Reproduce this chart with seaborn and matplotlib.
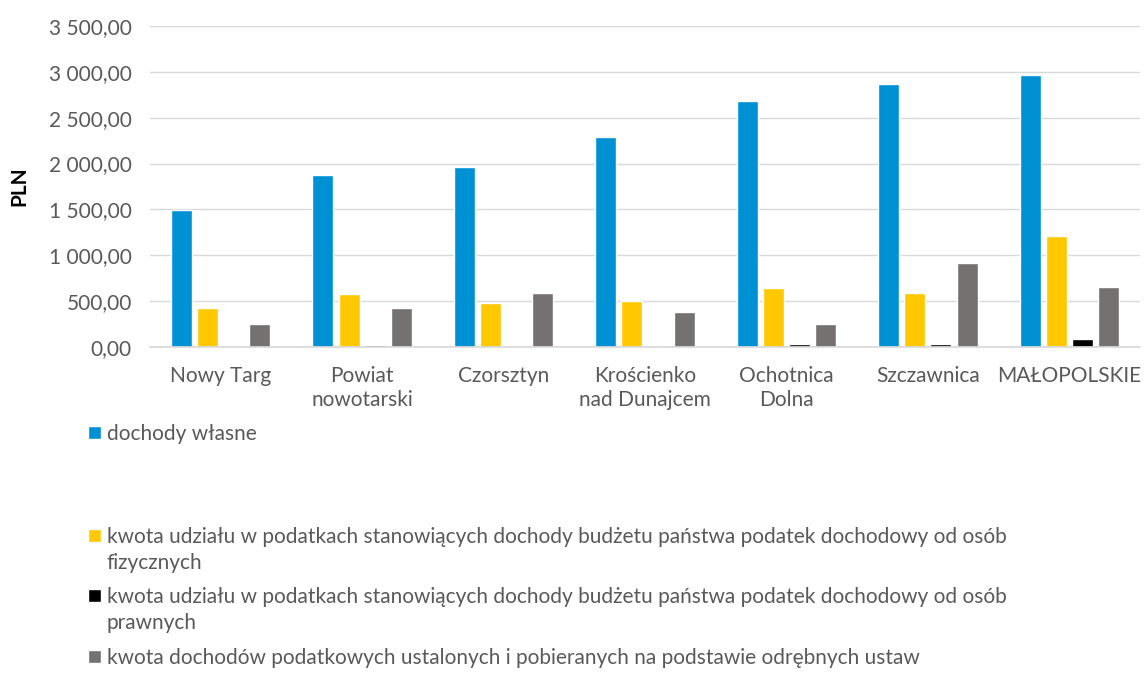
import numpy as np
import pandas as pd
import matplotlib
matplotlib.use("Agg")
import matplotlib.pyplot as plt
import seaborn as sns
from matplotlib.ticker import FuncFormatter, MultipleLocator
from matplotlib.patches import Patch

# data (PLN)
categories = ["Nowy Targ", "Powiat\nnowotarski", "Czorsztyn", "Krościenko\nnad Dunajcem",
              "Ochotnica\nDolna", "Szczawnica", "MAŁOPOLSKIE"]
series_names = [
    "dochody własne",
    "kwota udziału w podatkach stanowiących dochody budżetu państwa podatek dochodowy od osób\nfizycznych",
    "kwota udziału w podatkach stanowiących dochody budżetu państwa podatek dochodowy od osób\nprawnych",
    "kwota dochodów podatkowych ustalonych i pobieranych na podstawie odrębnych ustaw",
]
dochody_wlasne = [1494, 1875, 1962, 2290, 2682, 2867, 2966]
pit_udzial = [425, 578, 480, 501, 643, 589, 1210]
cit_udzial = [0, 20, 3, 2, 30, 30, 87]
odrebne_ustawy = [251, 425, 589, 382, 251, 916, 654]
colors = ["#0091D5", "#FFC800", "#000000", "#767171"]

df = pd.DataFrame({
    "kategoria": np.repeat(categories, 4),
    "seria": series_names * len(categories),
    "wartosc": np.column_stack([dochody_wlasne, pit_udzial, cit_udzial, odrebne_ustawy]).ravel(),
})

sns.set_theme(style="white")
plt.rcParams["font.family"] = ["Lato", "DejaVu Sans"]
text_col = "#595959"
fs = 15
W, H = 1145, 693

fig = plt.figure(figsize=(W / 100, H / 100), dpi=100)
ax = fig.add_axes([150 / W, 1 - 347 / H, (1140 - 150) / W, (347 - 26) / H])

sns.barplot(data=df, x="kategoria", y="wartosc", hue="seria", hue_order=series_names,
            palette=colors, width=0.74, gap=0.2, saturation=1, legend=False, ax=ax)

ax.set_ylim(0, 3500)
ax.yaxis.set_major_locator(MultipleLocator(500))
ax.yaxis.set_major_formatter(FuncFormatter(
    lambda v, p: f"{v:,.2f}".replace(",", " ").replace(".", ",")))
ax.grid(axis="y", color="#D9D9D9", lw=1)
ax.set_axisbelow(True)
for s in ["top", "right", "left"]:
    ax.spines[s].set_visible(False)
ax.spines["bottom"].set_color("#D9D9D9")
ax.tick_params(axis="y", length=0, labelsize=fs, colors=text_col, pad=13)
ax.tick_params(axis="x", length=0, labelsize=fs, colors=text_col, pad=14)
for lbl in ax.get_xticklabels():
    lbl.set_linespacing(1.2)
ax.set_xlabel("")
ax.set_ylabel("PLN", fontsize=fs, fontweight="bold", color="black")
ax.yaxis.set_label_coords(-0.122, 0.5)

# legend entries, one per row; wrapped continuation lines go under the text
legend_y = [433, 536, 596, 657]
legends = []
for name, col, y in zip(series_names, colors, legend_y):
    first = name.split("\n")[0]
    leg = fig.legend(handles=[Patch(facecolor=col)], labels=[first], loc="upper left",
                     bbox_to_anchor=(88 / W, 1 - (y - 9) / H), frameon=False,
                     fontsize=fs, labelcolor=text_col, handlelength=0.6, handleheight=0.6,
                     handletextpad=0.3, borderpad=0, borderaxespad=0)
    legends.append(leg)

fig.canvas.draw()
for leg, name, y in zip(legends, series_names, legend_y):
    rest = name.split("\n")[1:]
    if rest:
        x0 = leg.get_texts()[0].get_window_extent().x0
        fig.text(x0 / W, 1 - (y + 27) / H, rest[0], fontsize=fs, color=text_col,
                 ha="left", va="center")

fig.savefig("out.png", dpi=100)
